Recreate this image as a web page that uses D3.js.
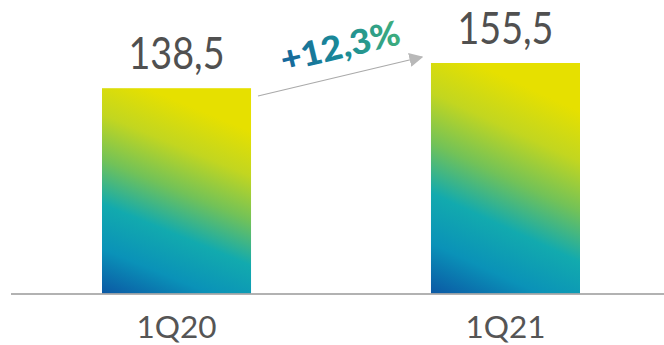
<!DOCTYPE html>
<html><head><meta charset="utf-8">
<script src="https://cdn.jsdelivr.net/npm/d3@7"></script>
<style>body{margin:0;background:#fff}svg{display:block}</style>
</head><body>
<script>
const categories = ["1Q20", "1Q21"];
const values = [138.5, 155.5];
const valueLabels = ["138,5", "155,5"];
const growthLabel = "+12,3%";

const W = 664, H = 345;
const svg = d3.select("body").append("svg").attr("width", W).attr("height", H);
const defs = svg.append("defs");

const baseY = 293.5;
const xb = d3.scaleBand().domain(categories).range([102, 580]).paddingInner(0.547).paddingOuter(0);
const y = d3.scaleLinear().domain([0, 155.5]).range([baseY, 63]);

const g = defs.append("linearGradient").attr("id", "barGrad")
  .attr("x1", "0%").attr("y1", "100%").attr("x2", "30%").attr("y2", "0%");
[[0, "#0b58a4"], [0.2, "#0a92b8"], [0.4, "#12aaae"], [0.6, "#72c258"], [0.8, "#c2d620"], [1, "#e6e000"]]
  .forEach(([o, c]) => g.append("stop").attr("offset", o).attr("stop-color", c));

const tg = defs.append("linearGradient").attr("id", "txtGrad")
  .attr("x1", "0%").attr("y1", "0%").attr("x2", "100%").attr("y2", "0%");
[[0, "#16659b"], [0.5, "#1a8a98"], [1, "#3fae7c"]]
  .forEach(([o, c]) => tg.append("stop").attr("offset", o).attr("stop-color", c));

const bw = xb.bandwidth();
const cx = d => xb(d) + bw / 2;

svg.selectAll("rect.bar").data(categories).join("rect")
  .attr("class", "bar")
  .attr("x", d => xb(d))
  .attr("width", bw)
  .attr("y", (d, i) => y(values[i]))
  .attr("height", (d, i) => baseY - y(values[i]))
  .attr("fill", "url(#barGrad)");

svg.append("line").attr("x1", 11).attr("x2", 664).attr("y1", baseY + 0.5).attr("y2", baseY + 0.5)
  .attr("stroke", "#999").attr("stroke-width", 1.5);

svg.selectAll("text.val").data(categories).join("text")
  .attr("class", "val")
  .attr("x", d => cx(d))
  .attr("y", (d, i) => y(values[i]) - 19)
  .attr("text-anchor", "middle")
  .attr("font-family", "Lato, 'Open Sans', sans-serif")
  .attr("font-size", 44)
  .attr("fill", "#505050")
  .attr("textLength", 96).attr("lengthAdjust", "spacingAndGlyphs")
  .text((d, i) => valueLabels[i]);

svg.selectAll("text.cat").data(categories).join("text")
  .attr("class", "cat")
  .attr("x", d => cx(d))
  .attr("y", 338)
  .attr("text-anchor", "middle")
  .attr("font-family", "Lato, 'Open Sans', sans-serif")
  .attr("font-size", 30)
  .attr("fill", "#555")
  .attr("textLength", 80).attr("lengthAdjust", "spacingAndGlyphs")
  .text(d => d);

// arrow
defs.append("marker").attr("id", "arrow").attr("viewBox", "0 0 10 10")
  .attr("refX", 9).attr("refY", 5).attr("markerWidth", 14).attr("markerHeight", 14)
  .attr("markerUnits", "userSpaceOnUse").attr("orient", "auto")
  .append("path").attr("d", "M0,0 L10,5 L0,10 Z").attr("fill", "#b8b8b8");

const x1 = xb(categories[0]) + bw + 7, y1 = 96;
const x2 = xb(categories[1]) - 9, y2 = 57;
svg.append("line").attr("x1", x1).attr("y1", y1).attr("x2", x2).attr("y2", y2)
  .attr("stroke", "#aaa").attr("stroke-width", 1.2).attr("marker-end", "url(#arrow)");

const ang = Math.atan2(y2 - y1, x2 - x1) * 180 / Math.PI;
svg.append("text")
  .attr("transform", `translate(343,58) rotate(${ang})`)
  .attr("text-anchor", "middle")
  .attr("font-family", "Lato, sans-serif")
  .attr("font-weight", 900)
  .attr("font-size", 34)
  .attr("fill", "url(#txtGrad)")
  .attr("textLength", 122).attr("lengthAdjust", "spacingAndGlyphs")
  .text(growthLabel);
</script>
</body></html>
